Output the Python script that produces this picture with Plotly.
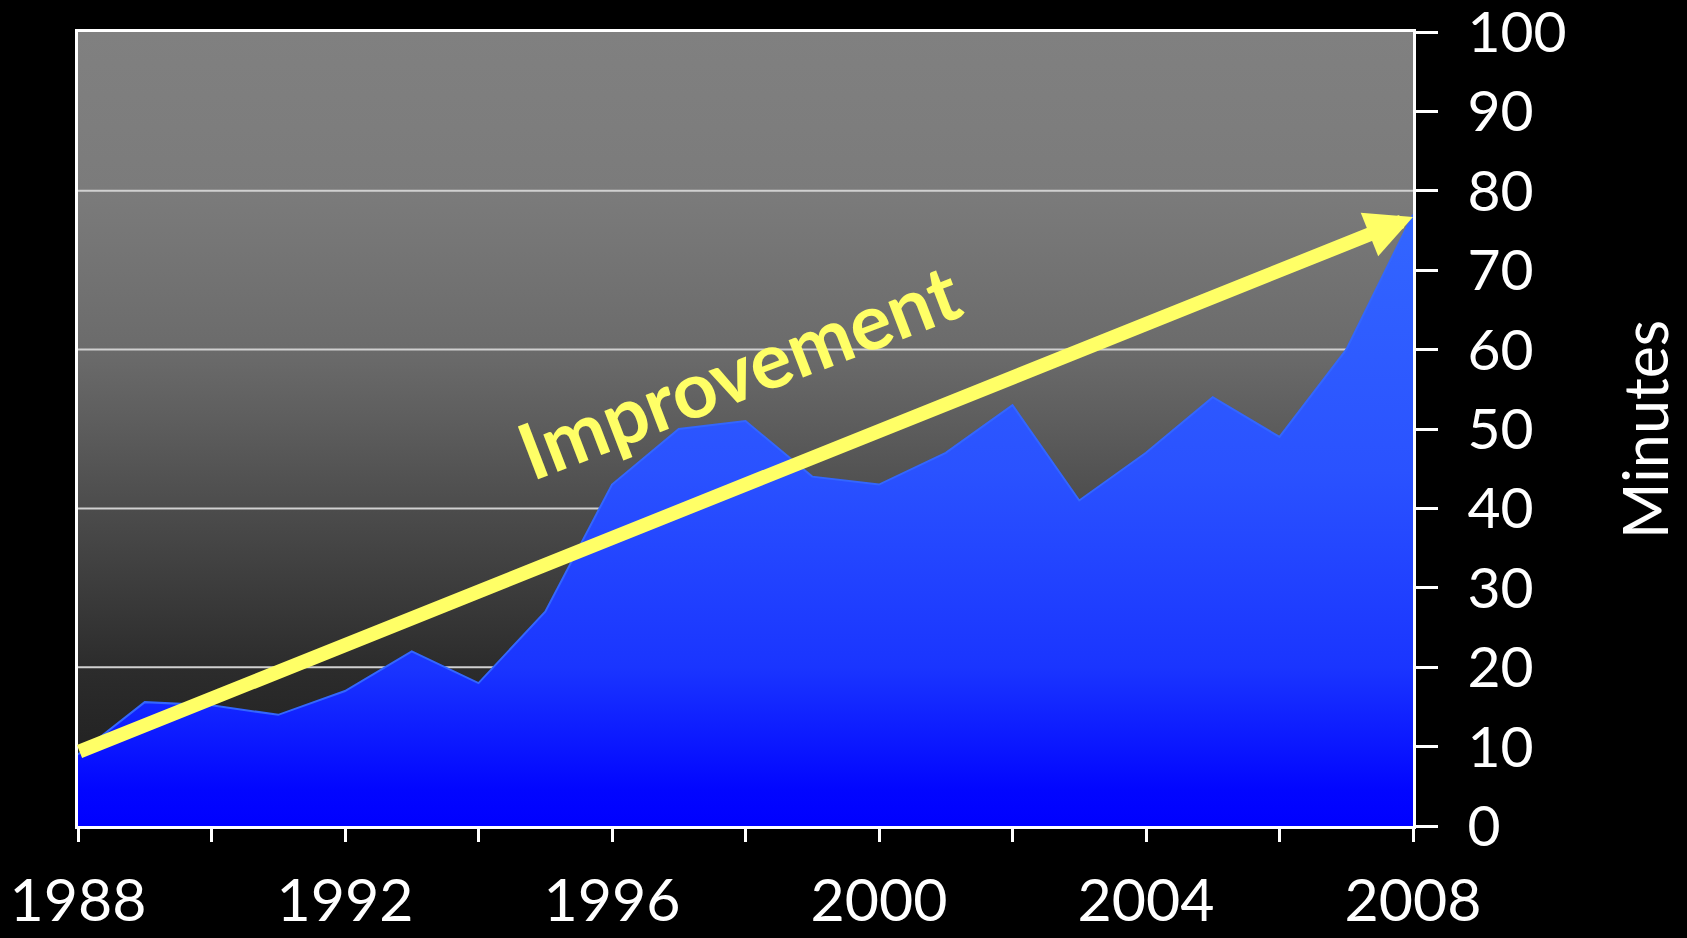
import plotly.graph_objects as go

# ---- data ----
years = list(range(1988, 2009))
minutes = [9, 15.6, 15.2, 14, 17, 22, 18, 27, 43, 50, 51, 44, 43, 47, 53, 41, 47, 54, 49, 60, 77]

x_tickvals = list(range(1988, 2009, 2))
x_ticktext = [str(y) if (y - 1988) % 4 == 0 else "" for y in x_tickvals]
y_tickvals = list(range(0, 101, 10))
grid_values = [20, 40, 60, 80]

trend_start = (1988, 9.3)
trend_end = (2008, 76.7)
trend_label = "Improvement"
y_title = "Minutes"

x_range = [1988, 2008]
y_range = [0, 100]

W, H = 1687, 938
fig = go.Figure()

# plot-area background gradient (gray)
fig.add_trace(go.Scatter(
    x=x_range, y=[100, 100],
    mode="lines", line=dict(width=0), fill="tozeroy",
    fillgradient=dict(type="vertical", start=0, stop=100,
                      colorscale=[[0.0, "#1a1a1a"], [0.2, "#2c2c2c"], [0.4, "#4c4c4c"],
                                  [0.5, "#5c5c5c"], [0.6, "#6b6b6b"], [0.8, "#7b7b7b"],
                                  [1.0, "#808080"]]),
    hoverinfo="skip", showlegend=False))

# gridlines (drawn above background, below area)
gx, gy = [], []
for g in grid_values:
    gx += [x_range[0], x_range[1], None]
    gy += [g, g, None]
fig.add_trace(go.Scatter(x=gx, y=gy, mode="lines",
                         line=dict(color="#d0d0d0", width=2),
                         hoverinfo="skip", showlegend=False))

# blue area
fig.add_trace(go.Scatter(
    x=years, y=minutes, mode="lines",
    line=dict(color="#3366ff", width=2),
    fill="tozeroy",
    fillgradient=dict(type="vertical", start=0, stop=77,
                      colorscale=[[0.0, "#0000ff"], [0.06, "#0206ff"], [0.26, "#1a35ff"],
                                  [0.58, "#2a52ff"], [1.0, "#3366ff"]]),
    showlegend=False))

# trend arrow
fig.add_annotation(
    x=trend_end[0], y=trend_end[1], ax=trend_start[0], ay=trend_start[1],
    xref="x", yref="y", axref="x", ayref="y",
    text="", showarrow=True, arrowhead=2, arrowsize=0.67, arrowwidth=14,
    arrowcolor="#ffff66")

fig.add_annotation(
    x=1997.9, y=57.4, xref="x", yref="y",
    text="<b>" + trend_label + "</b>", showarrow=False, textangle=-21,
    font=dict(family="Lato", size=78, color="#ffff66"))

# y-axis title (placed as annotation so it can sit inside the right margin)
fig.add_annotation(
    x=1.173, y=0.5, xref="paper", yref="paper",
    xanchor="center", yanchor="middle",
    text=y_title, showarrow=False, textangle=-90,
    font=dict(family="Lato", size=61, color="white"))

fig.update_layout(
    width=W, height=H,
    paper_bgcolor="black", plot_bgcolor="black",
    margin=dict(l=77.5, r=W - 1412.7, t=32.3, b=H - 826.3, pad=0, autoexpand=False),
    showlegend=False,
    xaxis=dict(range=x_range, tickvals=x_tickvals, ticktext=x_ticktext,
               showgrid=False, zeroline=False, automargin=False,
               showline=True, linecolor="white", linewidth=3, mirror=True,
               ticks="outside", ticklen=13, tickwidth=3, tickcolor="white",
               ticklabelstandoff=8, ticklabeloverflow="allow",
               tickfont=dict(family="Lato", size=59, color="white")),
    yaxis=dict(range=y_range, tickvals=y_tickvals, side="right",
               showgrid=False, zeroline=False, automargin=False,
               showline=True, linecolor="white", linewidth=3, mirror=True,
               ticks="outside", ticklen=22, tickwidth=3, tickcolor="white",
               ticklabelstandoff=18, ticklabeloverflow="allow",
               tickfont=dict(family="Lato", size=57, color="white")),
)

fig.write_html("out.html", config={"displayModeBar": False},
               post_script="document.body.style.margin='0px';document.body.style.overflow='hidden';")
